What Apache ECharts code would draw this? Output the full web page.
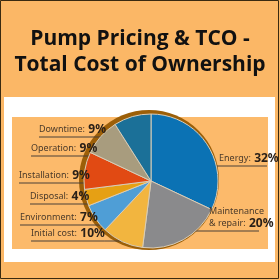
<!DOCTYPE html>
<html>
<head>
<meta charset="utf-8">
<script src="https://cdn.jsdelivr.net/npm/echarts@6/dist/echarts.min.js"></script>
<style>
  html, body { margin: 0; padding: 0; background: #fbb766; }
  #chart { width: 280px; height: 280px; }
</style>
</head>
<body>
<div id="chart"></div>
<script>
// cost shares (%), clockwise from 12 o'clock
var names = ['Energy', 'Maintenance\n& repair', 'Initial cost', 'Environment', 'Disposal', 'Installation', 'Operation', 'Downtime'];
var shares = [32, 20, 10, 7, 4, 9, 9, 9];
var colors = ['#0b72b4', '#8a8a8c', '#f2b53f', '#4f9ed6', '#e6a014', '#e14a13', '#a89c7e', '#1b7098'];

// label placement: text anchor x, line y, dot x (styling only)
var labelPos = [
  { x: 219, y: 166, dot: 168, side: 'right', end: 267 },
  { x: 209, y: 231, dot: 168, side: 'right', end: 259 },
  { x: 31, y: 241, dot: 129, side: 'left' },
  { x: 20, y: 225, dot: 104, side: 'left' },
  { x: 30, y: 204, dot: 98, side: 'left' },
  { x: 19, y: 183, dot: 101, side: 'left' },
  { x: 31, y: 156, dot: 108, side: 'left' },
  { x: 39, y: 137, dot: 135, side: 'left' }
];

var chart = echarts.init(document.getElementById('chart'));

var pieData = names.map(function (n, i) {
  return { name: n, value: shares[i], itemStyle: { color: colors[i] } };
});

chart.setOption({
  backgroundColor: '#fbb766',
  animation: false,
  title: {
    text: 'Pump Pricing & TCO -\nTotal Cost of Ownership',
    left: 'center',
    top: 21,
    textStyle: {
      fontFamily: 'Open Sans',
      fontWeight: 'bold',
      fontSize: 21,
      lineHeight: 26,
      color: '#111'
    }
  },
  graphic: [
    { type: 'rect', shape: { x: 0.5, y: 0.5, width: 278, height: 278 }, style: { fill: 'none', stroke: '#3a2a10', lineWidth: 1 }, z: 0 },
    { type: 'rect', shape: { x: 4, y: 97, width: 271, height: 165 }, style: { fill: '#ffffff' }, z: 0 },
    { type: 'rect', shape: { x: 12, y: 117, width: 256, height: 132 }, style: { fill: '#fcba6b' }, z: 0 }
  ],
  series: [
    {
      type: 'pie',
      center: [149, 180],
      radius: [0, 70],
      silent: true,
      z: 1,
      label: { show: false },
      labelLine: { show: false },
      data: [{ value: 1, itemStyle: { color: '#9c5f08' } }]
    },
    {
      type: 'pie',
      center: [151, 181],
      radius: [0, 67],
      startAngle: 90,
      clockwise: true,
      avoidLabelOverlap: false,
      z: 2,
      itemStyle: { borderColor: '#d9cdb8', borderWidth: 1 },
      label: {
        show: true,
        position: 'outside',
        formatter: function (p) {
          var parts = p.name.split('\n');
          var last = parts.pop();
          var head = parts.map(function (s) { return '{n|' + s + '}'; }).join('\n');
          return (head ? head + '\n' : '') + '{n|' + last + ':} {v|' + p.value + '%}';
        },
        rich: {
          n: { fontFamily: 'Noto Sans', fontSize: 9, color: '#4a3a2a', lineHeight: 11 },
          v: { fontFamily: 'Noto Sans', fontSize: 12, fontWeight: 'bold', color: '#2a2018', lineHeight: 13 }
        }
      },
      labelLine: { show: true, lineStyle: { color: '#4a4038', width: 1 } },
      labelLayout: function (params) {
        var lp = labelPos[params.dataIndex];
        var w = params.labelRect.width;
        var right = lp.end || (lp.x + w);
        var pts = lp.side === 'left'
          ? [[lp.dot, lp.y], [lp.x + w, lp.y], [lp.x, lp.y]]
          : [[lp.dot, lp.y], [lp.x, lp.y], [right, lp.y]];
        return {
          x: lp.x,
          y: lp.y - 1,
          align: 'left',
          verticalAlign: 'bottom',
          labelLinePoints: pts
        };
      },
      data: pieData
    }
  ]
});
</script>
</body>
</html>
